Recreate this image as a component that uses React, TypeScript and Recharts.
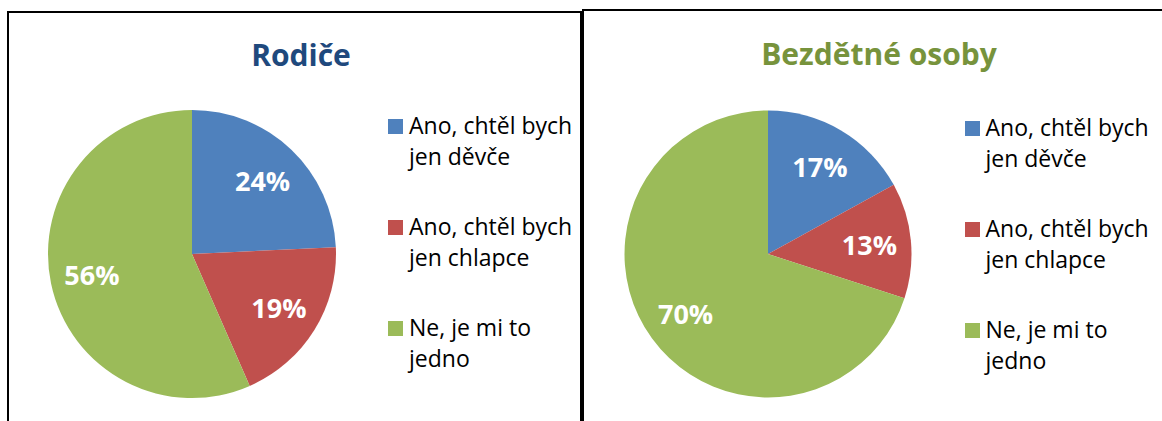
import React from 'react';
import { PieChart, Pie, Legend } from 'recharts';

// answers (same for both groups)
const CATEGORIES = ['Ano, chtěl bych jen děvče', 'Ano, chtěl bych jen chlapce', 'Ne, je mi to jedno'];
const PARENTS = [24, 19, 56];
const CHILDLESS = [17, 13, 70];
const COLORS = ['#4F81BD', '#C0504D', '#9BBB59'];

const FONT = '"Open Sans", "Noto Sans", sans-serif';
const RADIAN = Math.PI / 180;

const toRows = (values: number[]) =>
  CATEGORIES.map((name, i) => ({ name, value: values[i], fill: COLORS[i] }));

const renderLabel = (props: any) => {
  const { cx, cy, midAngle, outerRadius, value } = props;
  const r = outerRadius * 0.71;
  const x = cx + r * Math.cos(-midAngle * RADIAN);
  const y = cy + r * Math.sin(-midAngle * RADIAN);
  return (
    <text
      x={x}
      y={y}
      fill="#fff"
      textAnchor="middle"
      dominantBaseline="central"
      fontFamily={FONT}
      fontWeight={700}
      fontSize={27}
    >
      {value}%
    </text>
  );
};

// legend keeps the data order (recharts sorts its payload by name)
const LegendList = () => (
  <div style={{ fontFamily: FONT, fontSize: 23, lineHeight: '31px', color: '#000', textAlign: 'left' }}>
    {CATEGORIES.map((name, i) => (
      <div key={name} style={{ position: 'relative', paddingLeft: 21, width: 172, marginBottom: i < CATEGORIES.length - 1 ? 39 : 0 }}>
        <span style={{ position: 'absolute', left: 0, top: 8.5, width: 15, height: 15, background: COLORS[i] }} />
        {name}
      </div>
    ))}
  </div>
);

interface PanelProps {
  title: string;
  titleColor: string;
  values: number[];
  left: number;
  cx: number;
  cy: number;
  radius: number;
  titleX: number;
  titleBaseline: number;
  legendX: number;
  legendTop: number;
}

const Panel: React.FC<PanelProps> = ({ title, titleColor, values, left, cx, cy, radius, titleX, titleBaseline, legendX, legendTop }) => (
  <div style={{ position: 'absolute', left, top: 0, width: 583, height: 421 }}>
    <div
      style={{
        position: 'absolute',
        left: titleX - 200,
        width: 400,
        top: titleBaseline - 26.6,
        textAlign: 'center',
        fontFamily: FONT,
        fontWeight: 700,
        fontSize: 30,
        lineHeight: '30px',
        color: titleColor,
        zIndex: 2,
      }}
    >
      {title}
    </div>
    <PieChart width={583} height={421} margin={{ top: 0, right: 0, bottom: 0, left: 0 }}>
      <Pie
        data={toRows(values)}
        dataKey="value"
        nameKey="name"
        cx={cx}
        cy={cy}
        outerRadius={radius}
        startAngle={90}
        endAngle={-270}
        stroke="none"
        label={renderLabel}
        labelLine={false}
        isAnimationActive={false}
      />
      <Legend
        layout="vertical"
        align="center"
        verticalAlign="middle"
        content={<LegendList />}
        wrapperStyle={{ left: legendX, top: legendTop, width: 200 }}
      />
    </PieChart>
  </div>
);

export default function App() {
  return (
    <div style={{ position: 'absolute', left: 0, top: 0, width: 1162, height: 421, background: '#fff', overflow: 'hidden' }}>
      <Panel
        title="Rodiče"
        titleColor="#1F497D"
        values={PARENTS}
        left={0}
        cx={192}
        cy={254}
        radius={144}
        titleX={301}
        titleBaseline={67}
        legendX={388}
        legendTop={110}
      />
      <Panel
        title="Bezdětné osoby"
        titleColor="#77933C"
        values={CHILDLESS}
        left={583}
        cx={185}
        cy={254}
        radius={143.5}
        titleX={296}
        titleBaseline={66}
        legendX={381.5}
        legendTop={112}
      />
      {/* frames */}
      <div style={{ position: 'absolute', left: 7, top: 10.5, width: 575, height: 440, borderTop: '2px solid #000', borderLeft: '2px solid #000', borderRight: '2px solid #000', boxSizing: 'border-box' }} />
      <div style={{ position: 'absolute', left: 582, top: 9, width: 600, height: 440, borderTop: '2px solid #000', borderLeft: '2px solid #000', boxSizing: 'border-box' }} />
    </div>
  );
}
